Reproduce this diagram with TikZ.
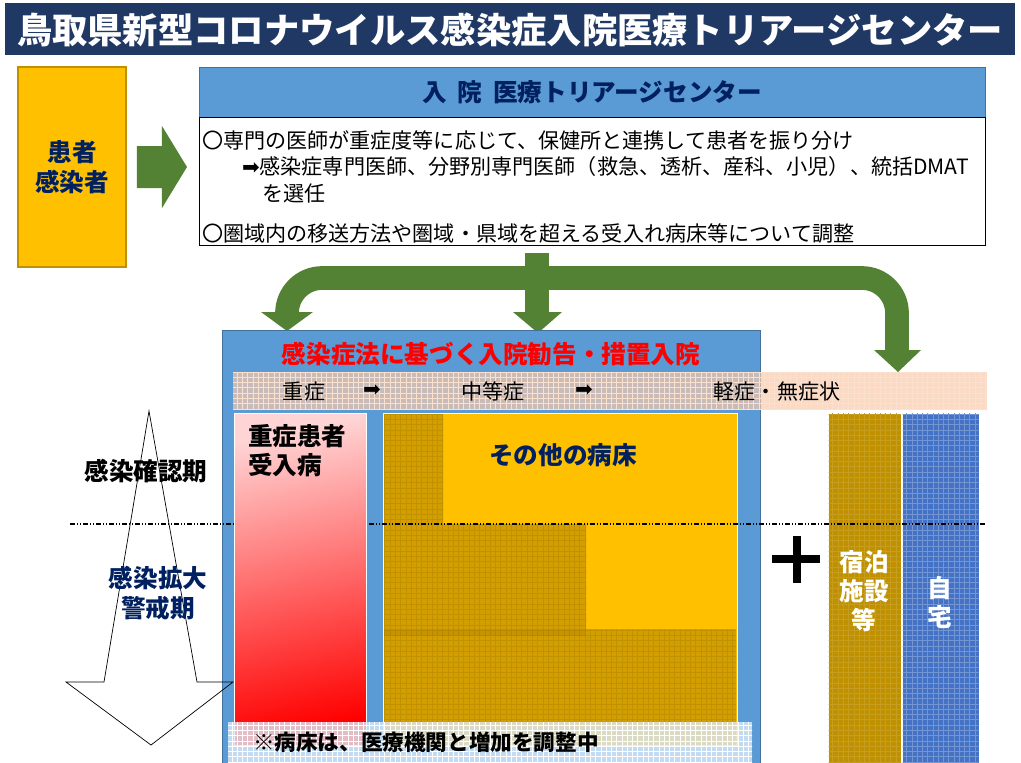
\documentclass[tikz,border=0pt]{standalone}
\usepackage{fontspec}
\newfontfamily\jp{Noto Sans CJK JP}
\newfontfamily\dingfont{DejaVu Sans}
\usepackage{tikz}
\usetikzlibrary{calc}
\usetikzlibrary{patterns}
\definecolor{titlenavy}{RGB}{32,56,100}
\definecolor{textnavy}{RGB}{0,32,96}
\definecolor{headblue}{RGB}{91,155,213}
\definecolor{headblueline}{RGB}{65,113,156}
\definecolor{arrowgreen}{RGB}{84,130,53}
\definecolor{ambery}{RGB}{255,192,0}
\definecolor{amberline}{RGB}{191,144,0}
\definecolor{darkamber}{RGB}{210,158,0}
\definecolor{hotelgold}{RGB}{191,144,0}
\definecolor{homeblue}{RGB}{68,114,196}
\definecolor{peach}{RGB}{248,203,173}
\definecolor{notebg}{RGB}{222,235,247}
\definecolor{pinktop}{RGB}{255,212,212}
\tikzset{
every picture/.style={line width=0.8pt},
%%%%%%%%%%  Text styles
plain/.style={inner sep=0pt, outer sep=0pt, align=left,
              font=\jp\fontsize{12}{14.7}\selectfont},
heavy/.style args={#1,#2}{inner sep=0pt, outer sep=0pt, align=center,
              font=\jp\bfseries\fontsize{#1}{#2}\selectfont},
%%%%%%%%%%  Box styles
panel/.style={draw=headblueline, fill=headblue, thin},
meshfill/.style={postaction={pattern=grid, pattern color=#1}},
%% block arrows in green
blockarrow/.style={fill=arrowgreen, draw=none},
forkline/.style={draw=arrowgreen, line width=13.5pt},
stage/.style={dash pattern=on 3pt off 1pt on 0.7pt off 1pt on 0.7pt off 1pt, line width=0.6pt}
}

\begin{document}
\begin{tikzpicture}[x=0.02cm, y=-0.02cm]
\useasboundingbox (0,0) rectangle (1021,762);
%% title bar
\fill[titlenavy] (5,3) rectangle (1015,55);
\node[heavy={20.1,20}, text=white] (title) at (510,30)
  {鳥取県新型コロナウイルス感染症入院医療トリアージセンター};
%%%%%%%%%%%%%%%%%%%%%%%%%%%%%%%%%%%%%%%%%%%%%%
\begin{scope}[shift={(0,0)}]
\node[draw=amberline, fill=ambery, minimum width=2.16cm, minimum height=4cm,
      heavy={14,17}, text=textnavy] (patient) at (72,167) {患者\\感染者};
\fill[blockarrow] ($(patient.east)+(11,-21)$) -- ++(25,0) -- ++(0,-20)
  -- ++(25,41) -- ++(-25,41) -- ++(0,-20) -- ++(-25,0) -- cycle;
%%
\node[panel, minimum width=15.72cm, minimum height=1cm, heavy={14,14},
      text=textnavy] (center) at (592,92) {入\hspace{0.45em}院\hspace{0.45em}医療トリアージセンター};
\node[draw=black, fill=white, thin, minimum width=15.72cm, minimum height=2.56cm,
      anchor=north] (duty) at (center.south) {};
\node[plain, anchor=west] (l1) at (202,140) {〇専門の医師が重症度等に応じて、保健所と連携して患者を振り分け};
\node[plain, anchor=west] (l2) at (242,166) {{\dingfont ➡}感染症専門医師、分野別専門医師（救急、透析、産科、小児）、統括DMAT};
\node[plain, anchor=west] (l3) at (262,193) {を選任};
\node[plain, anchor=west] (l4) at (202,233) {〇圏域内の移送方法や圏域・県域を超える受入れ病床等について調整};
\end{scope}
%%%%%%%%%%%%%%%%%%%%%%%%%%%%%%%%%%%%%%%%%%%%%%
%% the fork
\coordinate (stem) at (537,253);
\coordinate (fork) at (537,313);
\draw[forkline, rounded corners=20pt] (287,313) -- (287,278) -- (897,278) -- (897,351);
\draw[forkline] (stem) -- (fork);
\fill[blockarrow] (261,312) -- (313,312) -- (287,331) -- cycle;
\fill[blockarrow] ($(fork)+(-24,-1)$) -- ($(fork)+(25,-1)$) -- ($(fork)+(1,20)$) -- cycle;
\fill[blockarrow] (874,350) -- (921,350) -- (898,372) -- cycle;
%%%%%%%%%%%%%%%%%%%%%%%%%%%%%%%%%%%%%%%%%%%%%%
\node[panel, minimum width=10.76cm, minimum height=8.7cm, anchor=north west] (law) at (222,330) {};
\node[heavy={14,14}, text=red] (lawtitle) at (491,354) {感染症法に基づく入院勧告・措置入院};
%% severity band
\fill[peach, fill opacity=0.7, meshfill={peach!60!white}] (233,372) rectangle (987,409);
\node[plain] (sev) at (304,391) {重症};
\node[plain] (ar1) at (372,391) {\dingfont ➡};
\node[plain] (mid) at (493,391) {中等症};
\node[plain] (ar2) at (584,391) {\dingfont ➡};
\node[plain] (mild) at (777,391) {軽症・無症状};
%% other beds
\node[fill=ambery, draw=white, thick, minimum width=7.08cm, minimum height=6.64cm,
      anchor=north west] (beds) at (383,413) {};
\fill[darkamber, meshfill={darkamber!92!black}] (384,414) -- (443,414) -- (443,524) -- (586,524)
  -- (586,629) -- (736,629) -- (736,745) -- (384,745) -- cycle;
\fill[black, opacity=0.06] (384,629) rectangle (586,636);
\node[heavy={14,14}, text=textnavy] (others) at (563,455) {その他の病床};
%% hotel and home
\node[fill=hotelgold, minimum width=1.44cm, minimum height=7cm, anchor=north west,
      meshfill={hotelgold!88!white}] (hotel) at (828,413) {};
\node[heavy={14,16.5}, text=white] (hoteltext) at (864,591) {宿泊\\施設\\等};
\node[fill=homeblue, minimum width=1.52cm, minimum height=7cm, anchor=north west,
      meshfill={homeblue!75!white}] (home) at (902,413) {};
\node[heavy={14,16.5}, text=white] (hometext) at (940,603) {自\\宅};
\draw[line width=4pt] (772,559) -- (820,559);
\draw[line width=4pt] (797,536) -- (797,583);
%% time arrow
\draw[thin] (149,411) -- (197,682) -- (233,682) -- (151,745) -- (66,682) -- (104,682) -- cycle;
\draw[stage] (70,524) -- (985,524);
%% severe beds
\node[draw=white, thick, top color=pinktop, bottom color=red, shading angle=12,
      minimum width=2.64cm, minimum height=6.64cm, anchor=north west] (icu) at (234,413) {};
\node[heavy={14,16.5}, align=left, anchor=north west] (icutext) at (248,424) {重症患者\\受入病};
%% stages
\node[heavy={14,14}] (stage1) at (146,471) {感染確認期};
\node[heavy={14,17}, text=textnavy] (stage2) at (158,593) {感染拡大\\警戒期};
%% note
\fill[notebg, fill opacity=0.8, meshfill=white] (228,722) rectangle (752,762);
\node[heavy={12.3,12.3}, anchor=west] (note) at (253,742) {※病床は、医療機関と増加を調整中};
\end{tikzpicture}
\end{document}
